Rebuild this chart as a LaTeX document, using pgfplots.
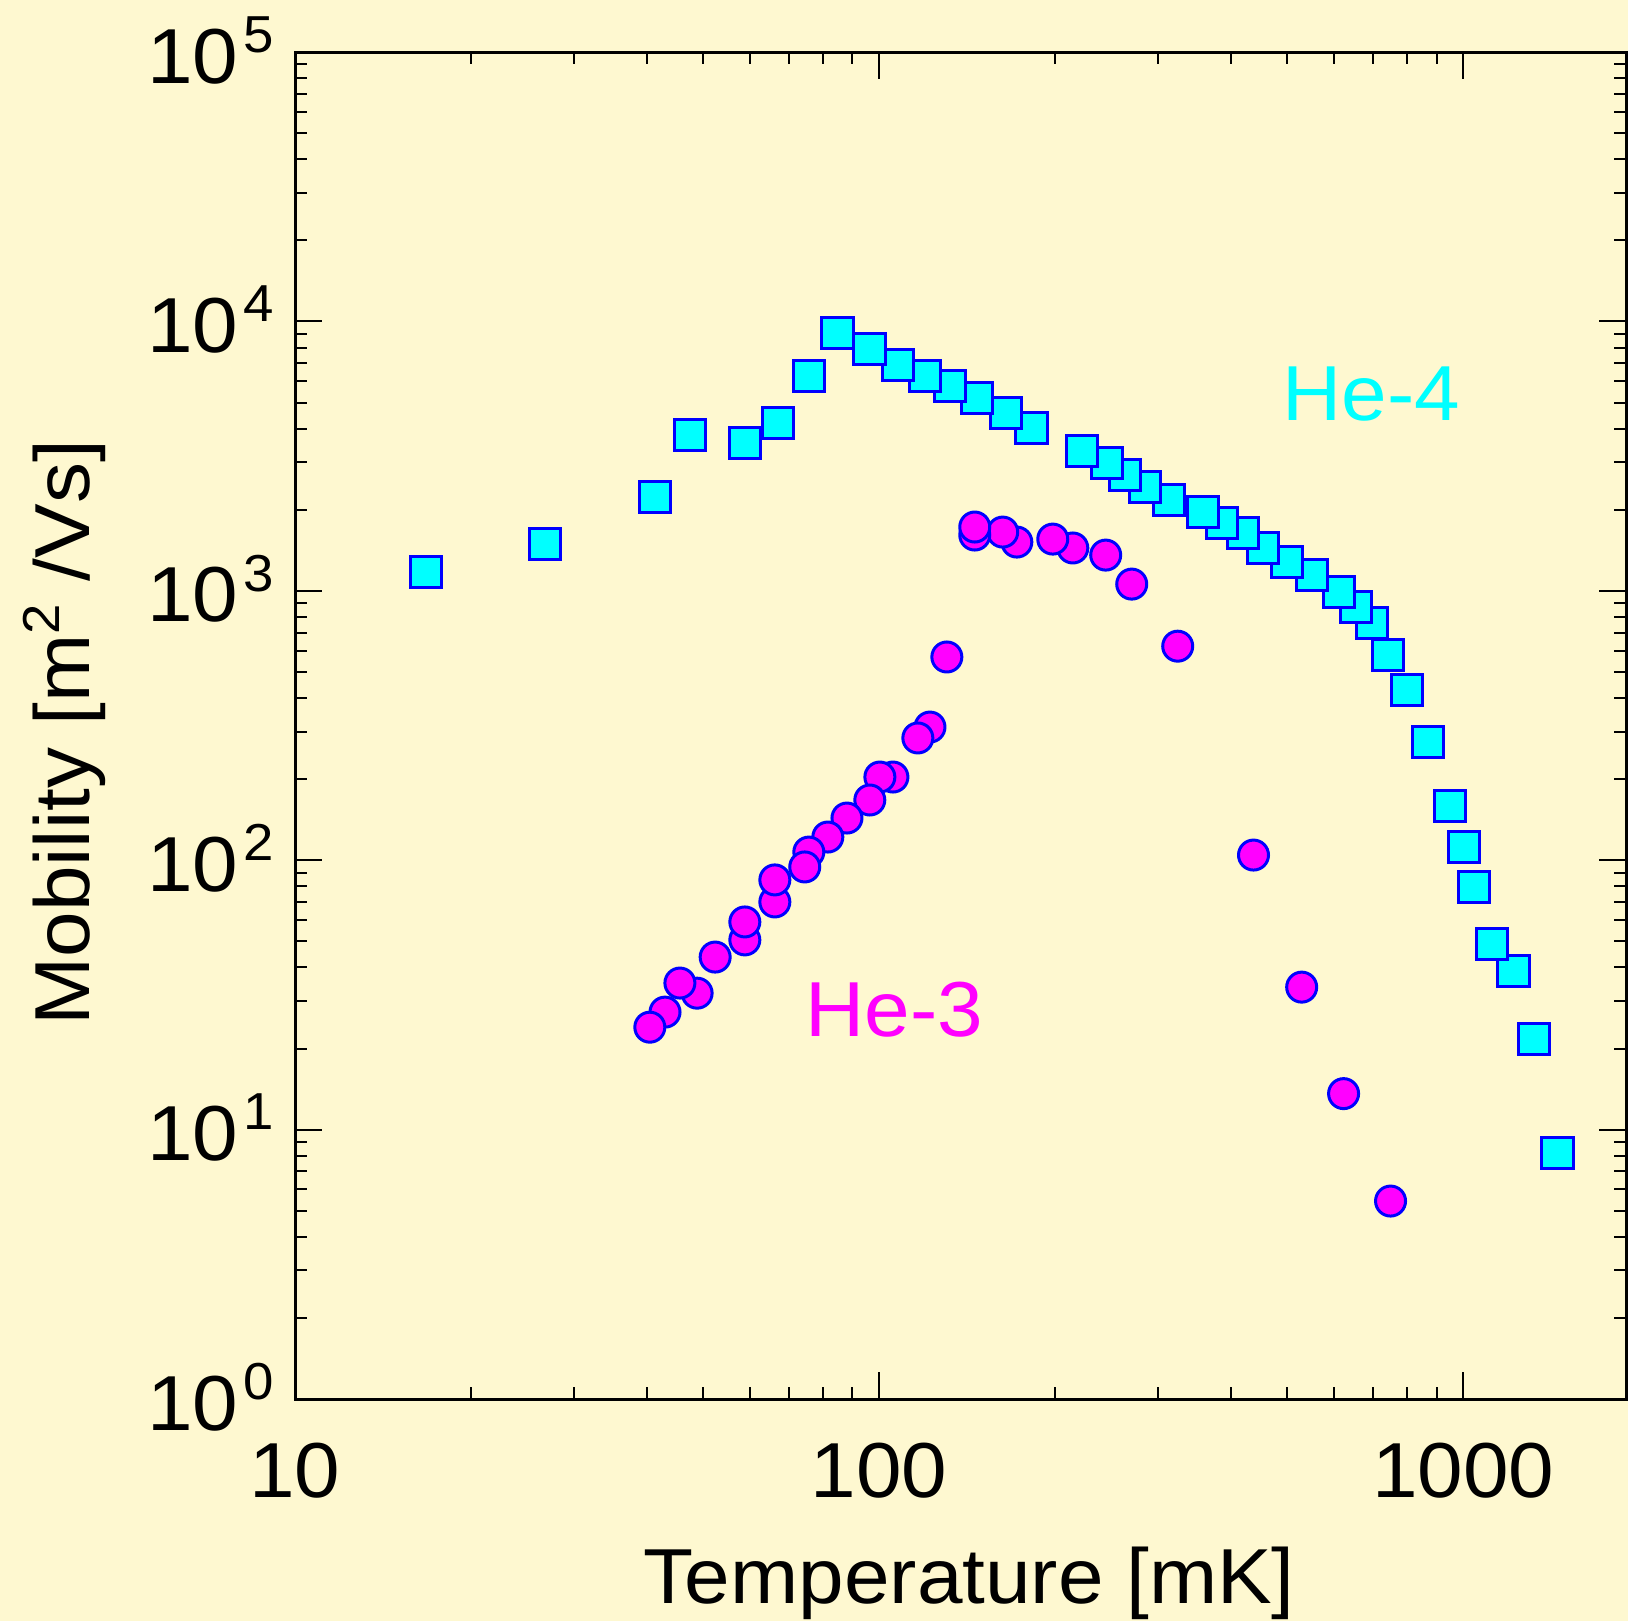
\documentclass[border=0pt]{standalone}
\usepackage{pgfplots}
\pgfplotsset{compat=1.18}
\usepackage{fontspec}
\setmainfont{Liberation Sans}[FakeStretch=1.05]
\definecolor{bg}{RGB}{254,248,208}
\definecolor{hefour}{RGB}{0,255,255}
\definecolor{hethree}{RGB}{255,0,255}
\definecolor{edge}{RGB}{0,0,255}
\newcommand{\lbl}{\fontsize{19.5}{22}\selectfont}
\newcommand{\tp}[1]{10\hspace{1.4pt}\raisebox{7.7pt}{\fontsize{13}{13}\selectfont #1}}

\pgfplotstableread{
T M
1450 8.18
1320 21.7
1219 38.8
1119 48.9
1045 79.5
1002 112
950 159
869 275
800 428
742.5 578
697 760
654.4 871
612.0 990
550.3 1145
498.6 1279
453.6 1442
419.3 1639
386.0 1786
358.1 1961
313.2 2174
284.9 2427
263.4 2692
245.3 2979
222.3 3303
182.4 4010
164.9 4559
146.9 5183
132.2 5758
120.0 6271
107.6 6890
96.3 7877
84.87 9033
75.96 6271
67.1 4186
59.0 3528
47.4 3787
41.4 2235
26.76 1488
16.76 1175
}\hefourdata

\pgfplotstableread{
T M
751 5.43
624 13.6
529 33.8
437.5 104.5
324.5 623
270.7 1059
244.3 1357
214.6 1442
198.3 1556
172.1 1517
162.8 1652
145.8 1611
145.8 1725
130.6 568
122.2 312.1
116.5 284.3
105.6 203.6
100.3 203.6
96.4 167.3
88.1 143.4
81.7 121.9
75.8 107.2
74.6 94.4
66.3 70.0
66.3 84.5
58.9 50.6
58.9 59.0
52.4 43.7
48.8 32.1
45.6 35.0
43.0 27.3
40.5 24.0
}\hethreedata

\begin{document}
\begin{tikzpicture}
\path[use as bounding box, fill=bg] (-73.75pt,-55.5pt) rectangle (333.25pt,349.75pt);
\begin{axis}[
  at={(0pt,0pt)}, anchor=south west,
  scale only axis, width=332.75pt, height=336.75pt,
  xmode=log, ymode=log,
  xmin=10, xmax=1900, ymin=1, ymax=1e5,
  xtick={10,100,1000}, xticklabels={10,100,1000},
  ytick={1,10,100,1000,10000,100000},
  yticklabels={\tp{0},\tp{1},\tp{2},\tp{3},\tp{4},\tp{5}},
  minor xtick={20,30,40,50,60,70,80,90,200,300,400,500,600,700,800,900},
  minor ytick={2,3,4,5,6,7,8,9,20,30,40,50,60,70,80,90,200,300,400,500,600,700,800,900,2000,3000,4000,5000,6000,7000,8000,9000,20000,30000,40000,50000,60000,70000,80000,90000},
  tick align=inside, xtick pos=both, ytick pos=both,
  major tick length=6.75pt, minor tick length=3pt,
  every tick/.style={black, line width=0.5pt},
  axis line style={line width=0.75pt},
  xticklabel style={font=\lbl, anchor=base, inner sep=0pt, yshift=-24.5pt},
  yticklabel style={font=\lbl, anchor=base east, inner sep=0pt, xshift=-5pt, yshift=-7.75pt},
  xlabel={Temperature [mK]},
  ylabel={Mobility [m\raisebox{7.7pt}{\fontsize{13}{13}\selectfont 2} /Vs]},
  xlabel style={font=\lbl, at={(axis description cs:0.5066,-0.15145)}, anchor=base, inner sep=0pt},
  ylabel style={font=\lbl, at={(axis description cs:-0.15402,0.4946)}, anchor=base, inner sep=0pt},
  clip=false,
]
\addplot[only marks, mark=square*, mark size=3.9pt,
  mark options={fill=hefour, draw=edge, line width=0.75pt}] table[x=T, y=M] {\hefourdata};
\addplot[only marks, mark=*, mark size=3.75pt,
  mark options={fill=hethree, draw=edge, line width=0.75pt}] table[x=T, y=M] {\hethreedata};
\node[anchor=base west, inner sep=0pt, text=hefour, font=\lbl] at (axis cs:488.7,4305) {He-4};
\node[anchor=base west, inner sep=0pt, text=hethree, font=\lbl] at (axis cs:74.6,22.07) {He-3};
\end{axis}
\end{tikzpicture}
\end{document}
